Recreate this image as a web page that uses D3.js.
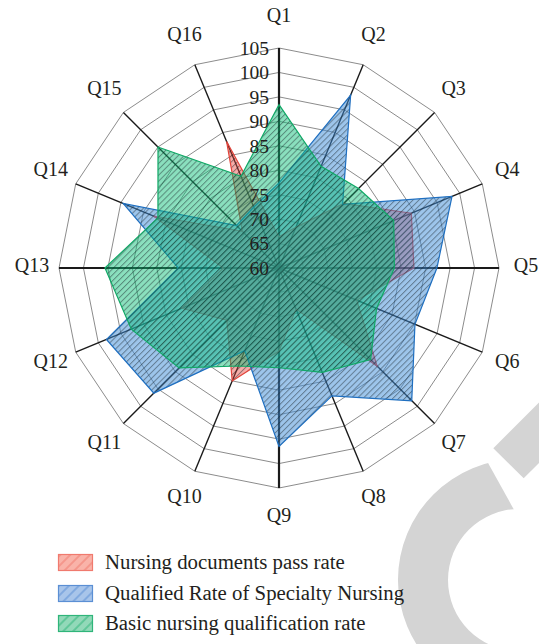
<!DOCTYPE html>
<html><head><meta charset="utf-8">
<script src="https://cdn.jsdelivr.net/npm/d3@7"></script>
<style>body{margin:0;background:#fff}svg{display:block}</style>
</head><body>
<svg id="chart" width="539" height="644"></svg>
<script>
const questions = ["Q1","Q2","Q3","Q4","Q5","Q6","Q7","Q8","Q9","Q10","Q11","Q12","Q13","Q14","Q15","Q16"];
const tickValues = [60,65,70,75,80,85,90,95,100,105];
const seriesNames = ["Nursing documents pass rate","Qualified Rate of Specialty Nursing","Basic nursing qualification rate"];
const nursingDocs      = [66.4,69.0,78.7,89.3,87.6,77.2,88.4,69.1,77.0,85.0,75.1,81.5,71.4,87.8,70.6,88.0];
const specialtyNursing = [77.4,98.3,78.4,98.3,92.3,90.1,98.4,88.3,96.5,78.3,96.2,98.2,80.6,94.5,72.3,73.5];
const basicNursing     = [93.4,82.5,83.0,85.4,83.6,81.6,86.5,83.1,80.4,81.7,88.9,92.7,95.6,86.8,95.0,80.3];

const svg = d3.select("#chart");
const cx = 279, cy = 268, R = 220;
const font = "'Liberation Serif','DejaVu Serif',serif";
const textColor = "#231f20";

const r = d3.scaleLinear().domain([60,105]).range([0,R]);
const angle = d3.scaleBand().domain(questions).range([0, 2*Math.PI]).paddingInner(0).paddingOuter(0);

const styles = [
  {fill:"rgba(235,60,50,0.42)", stroke:"#e2453c", lfill:"#f9b3a9", lstroke:"#f07a6e"},
  {fill:"rgba(60,140,215,0.5)", stroke:"#1f6fc0", lfill:"#a8c5ea", lstroke:"#5b8fd4"},
  {fill:"rgba(10,190,120,0.48)", stroke:"#10a866", lfill:"#92d9b9", lstroke:"#2fb57a"}
];

const defs = svg.append("defs");
defs.append("pattern").attr("id","hatch").attr("patternUnits","userSpaceOnUse")
  .attr("width",4.2).attr("height",4.2).attr("patternTransform","rotate(45)")
  .append("line").attr("x1",0.5).attr("y1",0).attr("x2",0.5).attr("y2",4.2)
  .attr("stroke","rgba(25,35,40,0.45)").attr("stroke-width",1);
styles.forEach((s,i)=>{
  const p = defs.append("pattern").attr("id","lh"+i).attr("patternUnits","userSpaceOnUse")
    .attr("width",7).attr("height",7).attr("patternTransform","rotate(45)");
  p.append("line").attr("x1",1).attr("y1",0).attr("x2",1).attr("y2",7)
   .attr("stroke",s.lstroke).attr("stroke-width",1);
});
defs.append("clipPath").attr("id","ringclip").append("polygon")
  .attr("points",[[288,103],[708,859],[-100,859],[-100,103]].map(p=>p.join(",")).join(" "));

// watermark
const wm = svg.append("g").attr("fill","#d4d4d4");
wm.append("g").attr("clip-path","url(#ringclip)")
  .append("path").attr("transform","translate(519,580)")
  .attr("d", d3.arc().innerRadius(71).outerRadius(121).startAngle(0).endAngle(2*Math.PI)());
wm.append("polygon").attr("points",[[493.3,448.3],[523.7,478.3],[665,337],[634,307]].map(p=>p.join(",")).join(" "));

const g = svg.append("g").attr("transform",`translate(${cx},${cy})`);

// grid rings
const ringLine = d3.lineRadial().angle((d,i)=>angle(questions[i])).radius(d=>r(d)).curve(d3.curveLinearClosed);
g.append("g").selectAll("path").data(tickValues.slice(1)).join("path")
  .attr("d", v => ringLine(questions.map(()=>v)))
  .attr("fill","none").attr("stroke","#8c8c8c").attr("stroke-width",1);

// spokes
g.append("g").selectAll("line").data(questions).join("line")
  .attr("x1",0).attr("y1",0)
  .attr("x2",q=>r(105)*Math.sin(angle(q)))
  .attr("y2",q=>-r(105)*Math.cos(angle(q)))
  .attr("stroke","#1a1a1a")
  .attr("stroke-width",(q,i)=> i%4===0 ? 2.2 : 1.4);

// series
const areaLine = d3.lineRadial().angle((d,i)=>angle(questions[i])).radius(d=>r(d)).curve(d3.curveLinearClosed);
[nursingDocs, specialtyNursing, basicNursing].forEach((data,i)=>{
  const sg = g.append("g");
  sg.append("path").attr("d",areaLine(data)).attr("fill",styles[i].fill);
  sg.append("path").attr("d",areaLine(data)).attr("fill","url(#hatch)");
  sg.append("path").attr("d",areaLine(data)).attr("fill","none")
    .attr("stroke",styles[i].stroke).attr("stroke-width",1.2).attr("stroke-linejoin","miter");
});

// tick labels on Q1 axis
g.append("g").selectAll("text").data(tickValues).join("text")
  .attr("x",-10).attr("y",v=>-r(v)).attr("dy","0.35em")
  .attr("text-anchor","end").attr("font-family",font).attr("font-size",19.5)
  .attr("fill",textColor).text(v=>v);

// question labels
g.append("g").selectAll("text").data(questions).join("text")
  .attr("x",q=>247*Math.sin(angle(q)))
  .attr("y",q=>-250*Math.cos(angle(q)) - 3)
  .attr("dy","0.35em").attr("text-anchor","middle")
  .attr("font-family",font).attr("font-size",20).attr("fill",textColor).text(q=>q);

// legend
const lg = svg.append("g");
const ly = [554, 585, 615];
seriesNames.forEach((name,i)=>{
  lg.append("rect").attr("x",58.5).attr("y",ly[i]+0.5).attr("width",34).attr("height",16)
    .attr("fill",styles[i].lfill);
  lg.append("rect").attr("x",58.5).attr("y",ly[i]+0.5).attr("width",34).attr("height",16)
    .attr("fill",`url(#lh${i})`).attr("stroke",styles[i].lstroke).attr("stroke-width",1.2);
  lg.append("text").attr("x",105).attr("y",ly[i]+14.5)
    .attr("font-family",font).attr("font-size",20.8).attr("fill",textColor).text(name);
});
</script>
</body></html>
